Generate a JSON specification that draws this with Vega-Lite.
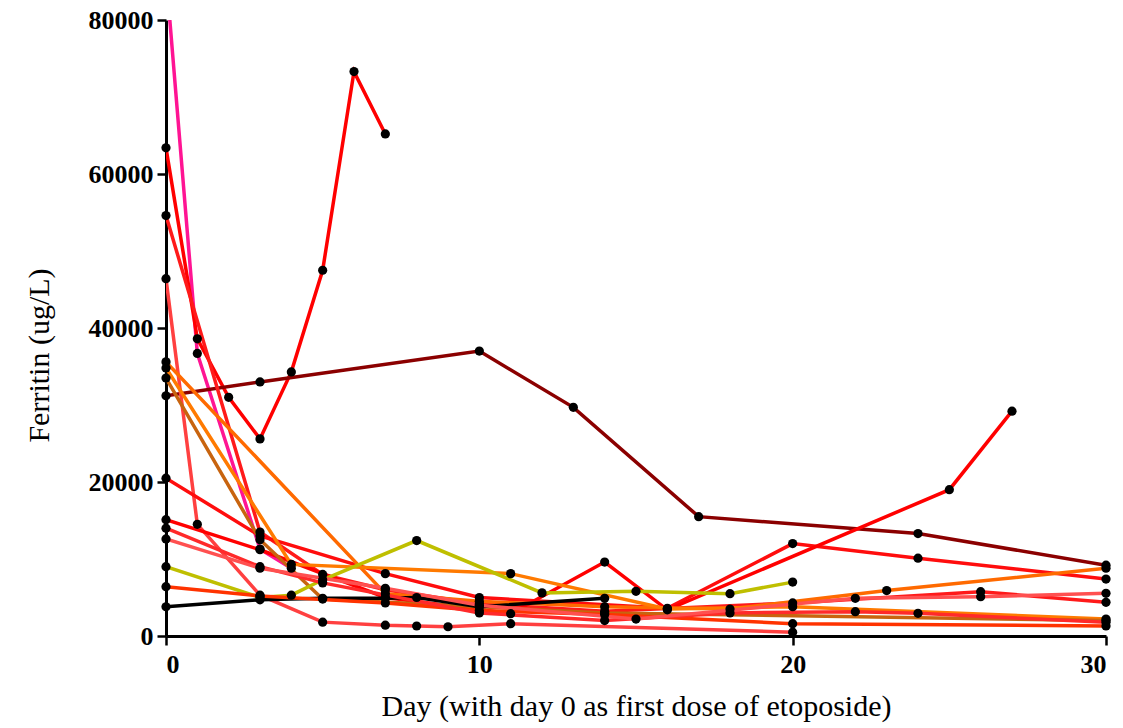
{
  "$schema": "https://vega.github.io/schema/vega-lite/v6.json",
  "width": 940,
  "height": 616,
  "autosize": {"type": "none"},
  "padding": {"left": 166, "top": 20, "right": 17, "bottom": 92},
  "background": "white",
  "config": {
    "view": {"stroke": null},
    "axis": {
      "grid": false,
      "domainColor": "black",
      "domainWidth": 3,
      "tickColor": "black",
      "tickWidth": 2.5,
      "tickSize": 9,
      "labelColor": "black",
      "labelFont": "Liberation Serif",
      "labelFontWeight": "bold",
      "labelFontSize": 26,
      "titleColor": "black",
      "titleFont": "Liberation Serif",
      "titleFontWeight": "normal",
      "titleFontSize": 30
    }
  },
  "data": {
    "values": [
      {"s": "pink", "d": 0, "v": 86000}, {"s": "pink", "d": 1, "v": 36700}, {"s": "pink", "d": 3, "v": 11300}, {"s": "pink", "d": 4, "v": 8800},
      {"s": "r1", "d": 0, "v": 63400}, {"s": "r1", "d": 1, "v": 38600}, {"s": "r1", "d": 2, "v": 31000}, {"s": "r1", "d": 3, "v": 25600}, {"s": "r1", "d": 4, "v": 34300}, {"s": "r1", "d": 5, "v": 47500}, {"s": "r1", "d": 6, "v": 73300}, {"s": "r1", "d": 7, "v": 65200},
      {"s": "dr", "d": 0, "v": 31200}, {"s": "dr", "d": 3, "v": 33000}, {"s": "dr", "d": 10, "v": 37000}, {"s": "dr", "d": 13, "v": 29700}, {"s": "dr", "d": 17, "v": 15500}, {"s": "dr", "d": 24, "v": 13300}, {"s": "dr", "d": 30, "v": 9200},
      {"s": "sal1", "d": 0, "v": 46400}, {"s": "sal1", "d": 1, "v": 14500}, {"s": "sal1", "d": 3, "v": 5300}, {"s": "sal1", "d": 5, "v": 1800}, {"s": "sal1", "d": 7, "v": 1400}, {"s": "sal1", "d": 8, "v": 1300}, {"s": "sal1", "d": 9, "v": 1200}, {"s": "sal1", "d": 11, "v": 1600}, {"s": "sal1", "d": 20, "v": 500},
      {"s": "r2", "d": 0, "v": 54600}, {"s": "r2", "d": 3, "v": 13500}, {"s": "r2", "d": 5, "v": 8000}, {"s": "r2", "d": 7, "v": 6000}, {"s": "r2", "d": 10, "v": 4200}, {"s": "r2", "d": 14, "v": 3200}, {"s": "r2", "d": 20, "v": 4300}, {"s": "r2", "d": 26, "v": 5760}, {"s": "r2", "d": 30, "v": 4370},
      {"s": "r3", "d": 0, "v": 20500}, {"s": "r3", "d": 3, "v": 13000}, {"s": "r3", "d": 7, "v": 8100}, {"s": "r3", "d": 10, "v": 5000}, {"s": "r3", "d": 16, "v": 3600}, {"s": "r3", "d": 20, "v": 12000}, {"s": "r3", "d": 24, "v": 10100}, {"s": "r3", "d": 30, "v": 7400},
      {"s": "r4", "d": 0, "v": 15100}, {"s": "r4", "d": 3, "v": 11200}, {"s": "r4", "d": 7, "v": 5000}, {"s": "r4", "d": 11, "v": 2900}, {"s": "r4", "d": 14, "v": 9600}, {"s": "r4", "d": 16, "v": 3400}, {"s": "r4", "d": 25, "v": 19000}, {"s": "r4", "d": 27, "v": 29200},
      {"s": "or1", "d": 0, "v": 35600}, {"s": "or1", "d": 7, "v": 5500}, {"s": "or1", "d": 10, "v": 4500}, {"s": "or1", "d": 14, "v": 3800}, {"s": "or1", "d": 18, "v": 3500}, {"s": "or1", "d": 23, "v": 5900}, {"s": "or1", "d": 30, "v": 8800},
      {"s": "or2", "d": 0, "v": 34800}, {"s": "or2", "d": 4, "v": 9300}, {"s": "or2", "d": 11, "v": 8100}, {"s": "or2", "d": 16, "v": 3500}, {"s": "or2", "d": 20, "v": 3800}, {"s": "or2", "d": 30, "v": 2200},
      {"s": "br", "d": 0, "v": 33500}, {"s": "br", "d": 3, "v": 12500}, {"s": "br", "d": 5, "v": 4800}, {"s": "br", "d": 14, "v": 3000}, {"s": "br", "d": 30, "v": 2000},
      {"s": "yl", "d": 0, "v": 9000}, {"s": "yl", "d": 3, "v": 5000}, {"s": "yl", "d": 4, "v": 5300}, {"s": "yl", "d": 5, "v": 7300}, {"s": "yl", "d": 8, "v": 12400}, {"s": "yl", "d": 12, "v": 5600}, {"s": "yl", "d": 15, "v": 5800}, {"s": "yl", "d": 18, "v": 5500}, {"s": "yl", "d": 20, "v": 7000},
      {"s": "bk", "d": 0, "v": 3800}, {"s": "bk", "d": 3, "v": 4700}, {"s": "bk", "d": 5, "v": 4900}, {"s": "bk", "d": 7, "v": 4900}, {"s": "bk", "d": 8, "v": 5000}, {"s": "bk", "d": 10, "v": 3800}, {"s": "bk", "d": 14, "v": 4900},
      {"s": "ro", "d": 0, "v": 6400}, {"s": "ro", "d": 3, "v": 5200}, {"s": "ro", "d": 7, "v": 4300}, {"s": "ro", "d": 10, "v": 3300}, {"s": "ro", "d": 14, "v": 2800}, {"s": "ro", "d": 20, "v": 1600}, {"s": "ro", "d": 30, "v": 1300},
      {"s": "r5", "d": 0, "v": 14000}, {"s": "r5", "d": 3, "v": 9000}, {"s": "r5", "d": 5, "v": 6900}, {"s": "r5", "d": 10, "v": 3000}, {"s": "r5", "d": 14, "v": 2000}, {"s": "r5", "d": 18, "v": 3000}, {"s": "r5", "d": 22, "v": 3160}, {"s": "r5", "d": 24, "v": 2950}, {"s": "r5", "d": 30, "v": 1800},
      {"s": "sal2", "d": 0, "v": 12600}, {"s": "sal2", "d": 3, "v": 8800}, {"s": "sal2", "d": 7, "v": 6200}, {"s": "sal2", "d": 10, "v": 4000}, {"s": "sal2", "d": 15, "v": 2200}, {"s": "sal2", "d": 22, "v": 4900}, {"s": "sal2", "d": 26, "v": 5100}, {"s": "sal2", "d": 30, "v": 5540}
    ]
  },
  "encoding": {
    "x": {
      "field": "d", "type": "quantitative",
      "scale": {"domain": [0, 30], "nice": false, "zero": false},
      "axis": {"values": [0, 10, 20, 30], "labelPadding": 6, "titlePadding": 14, "title": "Day (with day 0 as first dose of etoposide)"}
    },
    "y": {
      "field": "v", "type": "quantitative",
      "scale": {"domain": [0, 80000], "nice": false},
      "axis": {"values": [0, 20000, 40000, 60000, 80000], "format": "d", "labelPadding": 4, "titlePadding": 34, "titleY": 335, "title": "Ferritin (ug/L)"}
    }
  },
  "layer": [
    {
      "mark": {"type": "line", "strokeWidth": 3.5, "clip": true},
      "encoding": {
        "color": {
          "field": "s", "type": "nominal", "legend": null,
          "scale": {
            "domain": ["pink", "r1", "dr", "sal1", "r2", "r3", "r4", "or1", "or2", "br", "yl", "bk", "ro", "r5", "sal2"],
            "range": ["#FF1493", "#FF0000", "#8B0000", "#FF4040", "#FF1A1A", "#FF0D0D", "#FF0000", "#FF6A00", "#FF7A00", "#C8640F", "#BFBF00", "#000000", "#FF3300", "#FF2A2A", "#FF5050"]
          }
        },
        "detail": {"field": "s"}
      }
    },
    {
      "transform": [{"filter": "datum.v <= 80000"}],
      "mark": {"type": "point", "filled": true, "color": "black", "opacity": 1, "size": 85, "clip": false},
      "encoding": {}
    }
  ]
}
